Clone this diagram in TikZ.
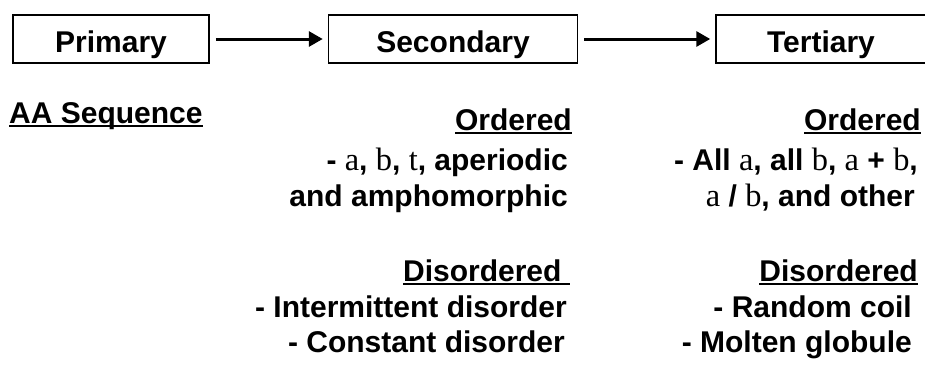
\documentclass[tikz,border=0pt]{standalone}
\usepackage{fontspec}
\setmainfont{Liberation Sans}
\newfontfamily\grkfont[Scale=1.08]{Liberation Serif}
\usetikzlibrary{positioning}
\usetikzlibrary{arrows.meta}

\newcommand{\hdline}[1]{\setbox0\hbox{#1}\rlap{\rule[-4pt]{\wd0}{2.4pt}}\box0}
\newcommand{\gk}[1]{{\grkfont\mdseries #1}}

\tikzset{
  stage/.style={draw, line width=1.5pt, minimum height=48pt, inner sep=0pt,
    text height=26pt, text depth=0pt, font=\bfseries\fontsize{30}{36}\selectfont},
  txt/.style={inner sep=0pt, anchor=base east, font=\bfseries\fontsize{30}{36}\selectfont},
  flow/.style={-{Triangle[length=14pt,width=15pt]}, line width=3pt, shorten <=6pt, shorten >=5pt}
}

\begin{document}
\begin{tikzpicture}[x=1pt,y=-1pt]
    \useasboundingbox (0,0) rectangle (925,370);
% stages
    \node[stage, minimum width=196pt] at (111,39) (primary) {Primary} ; %
    \node[stage, minimum width=249pt, right=118pt of primary] (secondary) {Secondary} ; %
    \node[stage, minimum width=210pt, right=137pt of secondary] (tertiary) {Tertiary} ; %
% edges
    \draw[flow] (primary) -- (secondary) ; %
    \draw[flow] (secondary) -- (tertiary) ; %
% primary
    \node[txt, anchor=base west] at (9,123) (aa_seq) {\hdline{AA Sequence}} ; %
% secondary
    \node[txt] at (572,130) (sec_ordered) {\hdline{Ordered}} ; %
    \node[txt] at (568,170) (sec_ordered_a) {- \gk{a}, \gk{b}, \gk{t}, aperiodic} ; %
    \node[txt] at (568,206) (sec_ordered_b) {and amphomorphic} ; %
    \node[txt] at (570,281) (sec_disordered) {\hdline{Disordered\ }} ; %
    \node[txt] at (567,317) (sec_disordered_a) {- Intermittent disorder} ; %
    \node[txt] at (565,352) (sec_disordered_b) {- Constant disorder} ; %
% tertiary
    \node[txt] at (921,130) (ter_ordered) {\hdline{Ordered}} ; %
    \node[txt] at (918,170) (ter_ordered_a) {- All \gk{a}, all \gk{b}, \gk{a} + \gk{b},} ; %
    \node[txt] at (915,206) (ter_ordered_b) {\gk{a} / \gk{b}, and other} ; %
    \node[txt] at (918,281) (ter_disordered) {\hdline{Disordered}} ; %
    \node[txt] at (912,317) (ter_disordered_a) {- Random coil} ; %
    \node[txt] at (912,352) (ter_disordered_b) {- Molten globule} ; %
\end{tikzpicture}
\end{document}
